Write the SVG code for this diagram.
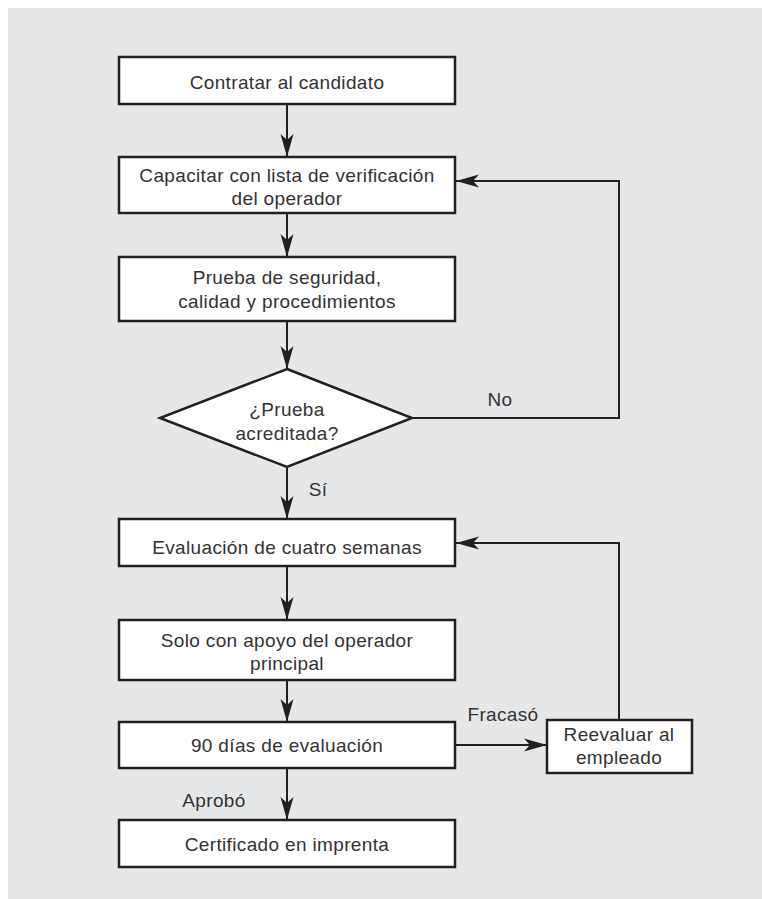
<svg xmlns="http://www.w3.org/2000/svg" width="762" height="899" viewBox="0 0 762 899">
<defs>
<style>
.box{fill:#fff;stroke:#231f20;stroke-width:2.5}
.ln{fill:none;stroke:#231f20;stroke-width:2}
text{font-family:"Liberation Sans",Arial,sans-serif;font-size:19px;fill:#333;text-anchor:middle;letter-spacing:0.35px}
</style>
<marker id="ah" viewBox="-24 -8 26 16" refX="0" refY="0" markerWidth="26" markerHeight="16" markerUnits="userSpaceOnUse" orient="auto">
<path d="M0,0 L-23,-6.5 L-17,0 L-23,6.5 Z" fill="#231f20"/>
</marker>
</defs>
<rect x="0" y="0" width="762" height="899" fill="#fff"/>
<rect x="8" y="8" width="754" height="891" fill="#e6e7e8"/>
<g id="connectors">
<line class="ln" x1="287" y1="104" x2="287" y2="157" marker-end="url(#ah)"/>
<line class="ln" x1="287" y1="213" x2="287" y2="257" marker-end="url(#ah)"/>
<line class="ln" x1="287" y1="321" x2="287" y2="369" marker-end="url(#ah)"/>
<polyline class="ln" points="412,418 619,418 619,181 456,181" marker-end="url(#ah)"/>
<line class="ln" x1="287" y1="467" x2="287" y2="519" marker-end="url(#ah)"/>
<line class="ln" x1="287" y1="566" x2="287" y2="620" marker-end="url(#ah)"/>
<line class="ln" x1="287" y1="680" x2="287" y2="722" marker-end="url(#ah)"/>
<line class="ln" x1="287" y1="768" x2="287" y2="820" marker-end="url(#ah)"/>
<line class="ln" x1="455" y1="745" x2="547" y2="745" marker-end="url(#ah)"/>
<polyline class="ln" points="619,720 619,543 456,543" marker-end="url(#ah)"/>
<text x="500" y="406">No</text>
<text x="318" y="496">Sí</text>
<text x="503" y="721">Fracasó</text>
<text x="214" y="807">Aprobó</text>
</g>
<g id="n1"><rect class="box" x="119" y="57" width="336" height="47"/><text x="287" y="89">Contratar al candidato</text></g>
<g id="n2"><rect class="box" x="119" y="157" width="336" height="56"/><text x="287" y="182">Capacitar con lista de verificación</text><text x="287" y="205">del operador</text></g>
<g id="n3"><rect class="box" x="119" y="257" width="336" height="64"/><text x="287" y="284">Prueba de seguridad,</text><text x="287" y="308">calidad y procedimientos</text></g>
<g id="n4"><polygon class="box" points="287,369 412,418 287,467 160,418"/><text x="287" y="416">¿Prueba</text><text x="287" y="440">acreditada?</text></g>
<g id="n5"><rect class="box" x="119" y="519" width="336" height="47"/><text x="287" y="554">Evaluación de cuatro semanas</text></g>
<g id="n6"><rect class="box" x="119" y="620" width="336" height="60"/><text x="287" y="647">Solo con apoyo del operador</text><text x="287" y="670">principal</text></g>
<g id="n7"><rect class="box" x="119" y="722" width="336" height="46"/><text x="287" y="752">90 días de evaluación</text></g>
<g id="n8"><rect class="box" x="119" y="820" width="336" height="47"/><text x="287" y="851">Certificado en imprenta</text></g>
<g id="n9"><rect class="box" x="547" y="720" width="145" height="53"/><text x="619" y="741">Reevaluar al</text><text x="619" y="764">empleado</text></g>
</svg>
